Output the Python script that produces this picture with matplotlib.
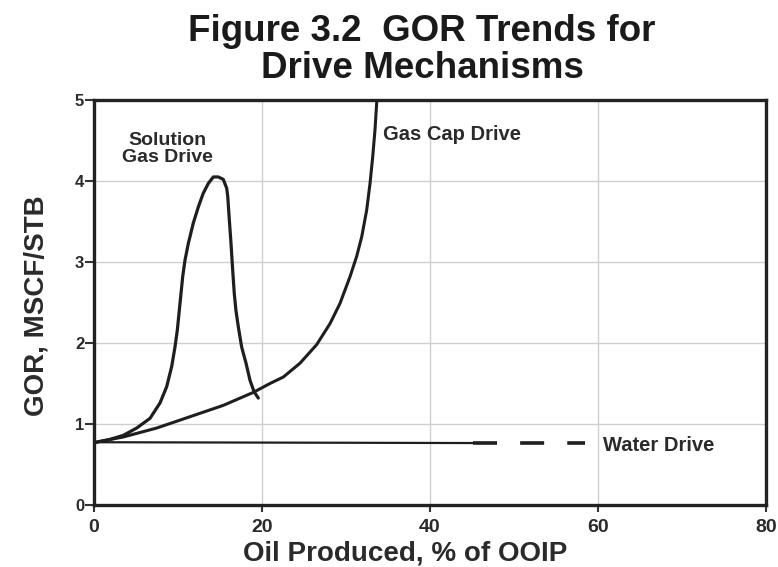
import matplotlib
matplotlib.use("Agg")
import matplotlib.pyplot as plt

# ---- data ----
sol_x = [0.0, 1.90, 3.49, 5.08, 6.67, 7.86, 8.65, 9.25, 9.64, 9.92, 10.24, 10.56, 10.83,
         11.23, 11.82, 12.42, 13.01, 13.61, 14.20, 14.80, 15.39, 15.80, 15.92, 16.11,
         16.31, 16.51, 16.70, 16.90, 17.18, 17.58, 18.10, 18.57, 19.05, 19.56]
sol_y = [0.77, 0.81, 0.86, 0.95, 1.07, 1.26, 1.46, 1.71, 1.95, 2.16, 2.49, 2.82, 3.02,
         3.23, 3.48, 3.68, 3.85, 3.97, 4.05, 4.05, 4.02, 3.91, 3.81, 3.52,
         3.23, 2.90, 2.61, 2.40, 2.20, 1.95, 1.75, 1.54, 1.40, 1.32]

cap_x = [0.0, 3.49, 7.46, 11.43, 15.39, 18.96, 20.95, 22.54, 24.52, 26.51, 28.10, 29.29,
         30.48, 31.27, 31.87, 32.46, 32.86, 33.18, 33.45, 33.65, 33.70]
cap_y = [0.77, 0.84, 0.95, 1.09, 1.23, 1.39, 1.50, 1.58, 1.75, 1.98, 2.24, 2.49,
         2.82, 3.07, 3.31, 3.64, 3.97, 4.30, 4.63, 4.96, 5.00]

water_solid_x = [0.0, 45.1]
water_solid_y = [0.775, 0.765]
water_dash_x = [45.1, 58.5]
water_dash_y = [0.765, 0.765]

x_ticks = [0, 20, 40, 60, 80]
y_ticks = [0, 1, 2, 3, 4, 5]

title_text = "Figure 3.2  GOR Trends for\nDrive Mechanisms"
x_label = "Oil Produced, % of OOIP"
y_label = "GOR, MSCF/STB"
label_solution = "Solution\nGas Drive"
label_cap = "Gas Cap Drive"
label_water = "Water Drive"

# ---- figure ----
fig = plt.figure(figsize=(7.78, 5.67), dpi=100)
ax = fig.add_axes([94/778, 62/567, 672/778, 405/567])

ax.set_xlim(0, 80)
ax.set_ylim(0, 5)
ax.set_xticks(x_ticks)
ax.set_yticks(y_ticks)
ax.grid(True, color="#cfcfcf", lw=1.0)
ax.set_axisbelow(True)

for s in ax.spines.values():
    s.set_linewidth(2.4)
    s.set_color("#222222")

fam = ["Liberation Sans", "DejaVu Sans"]
txtc = "#2a2a2a"

ax.tick_params(axis="x", direction="out", length=5, width=1.5, color="#333333",
               labelsize=14, pad=5)
ax.tick_params(axis="y", direction="out", length=6.5, width=1.5, color="#333333",
               labelsize=12, pad=0.5)
for lab in ax.get_xticklabels() + ax.get_yticklabels():
    lab.set_fontweight("bold")
    lab.set_family(fam)
    lab.set_color(txtc)

lc = "#1e1e1e"
ax.plot(sol_x, sol_y, color=lc, lw=2.3, solid_capstyle="round", solid_joinstyle="round")
ax.plot(cap_x, cap_y, color=lc, lw=2.2, solid_capstyle="butt", solid_joinstyle="round")
ax.plot(water_solid_x, water_solid_y, color=lc, lw=1.6)
ax.plot(water_dash_x, water_dash_y, color=lc, lw=2.6, linestyle=(0, (6.65, 6.4)))

ax.text(8.7, 4.40, label_solution, ha="center", va="center", fontsize=14,
        fontweight="bold", color=txtc, family=fam, linespacing=1.0)
ax.text(34.4, 4.58, label_cap, ha="left", va="center", fontsize=14.5,
        fontweight="bold", color=txtc, family=fam)
ax.text(60.6, 0.74, label_water, ha="left", va="center", fontsize=14.5,
        fontweight="bold", color=txtc, family=fam)

ax.set_xlabel(x_label, fontsize=20, fontweight="bold", color=txtc, family=fam)
ax.xaxis.set_label_coords((405 - 94) / 672, -0.088)
ax.set_ylabel(y_label, fontsize=20, fontweight="bold", color=txtc, family=fam)
ax.yaxis.set_label_coords(-0.066, 0.491)

fig.text(422/778, 1 - 14/567, title_text, ha="center", va="top", fontsize=26.5,
         fontweight="bold", color="#1a1a1a", family=fam, linespacing=1.06)

fig.savefig("out.png", dpi=100)
